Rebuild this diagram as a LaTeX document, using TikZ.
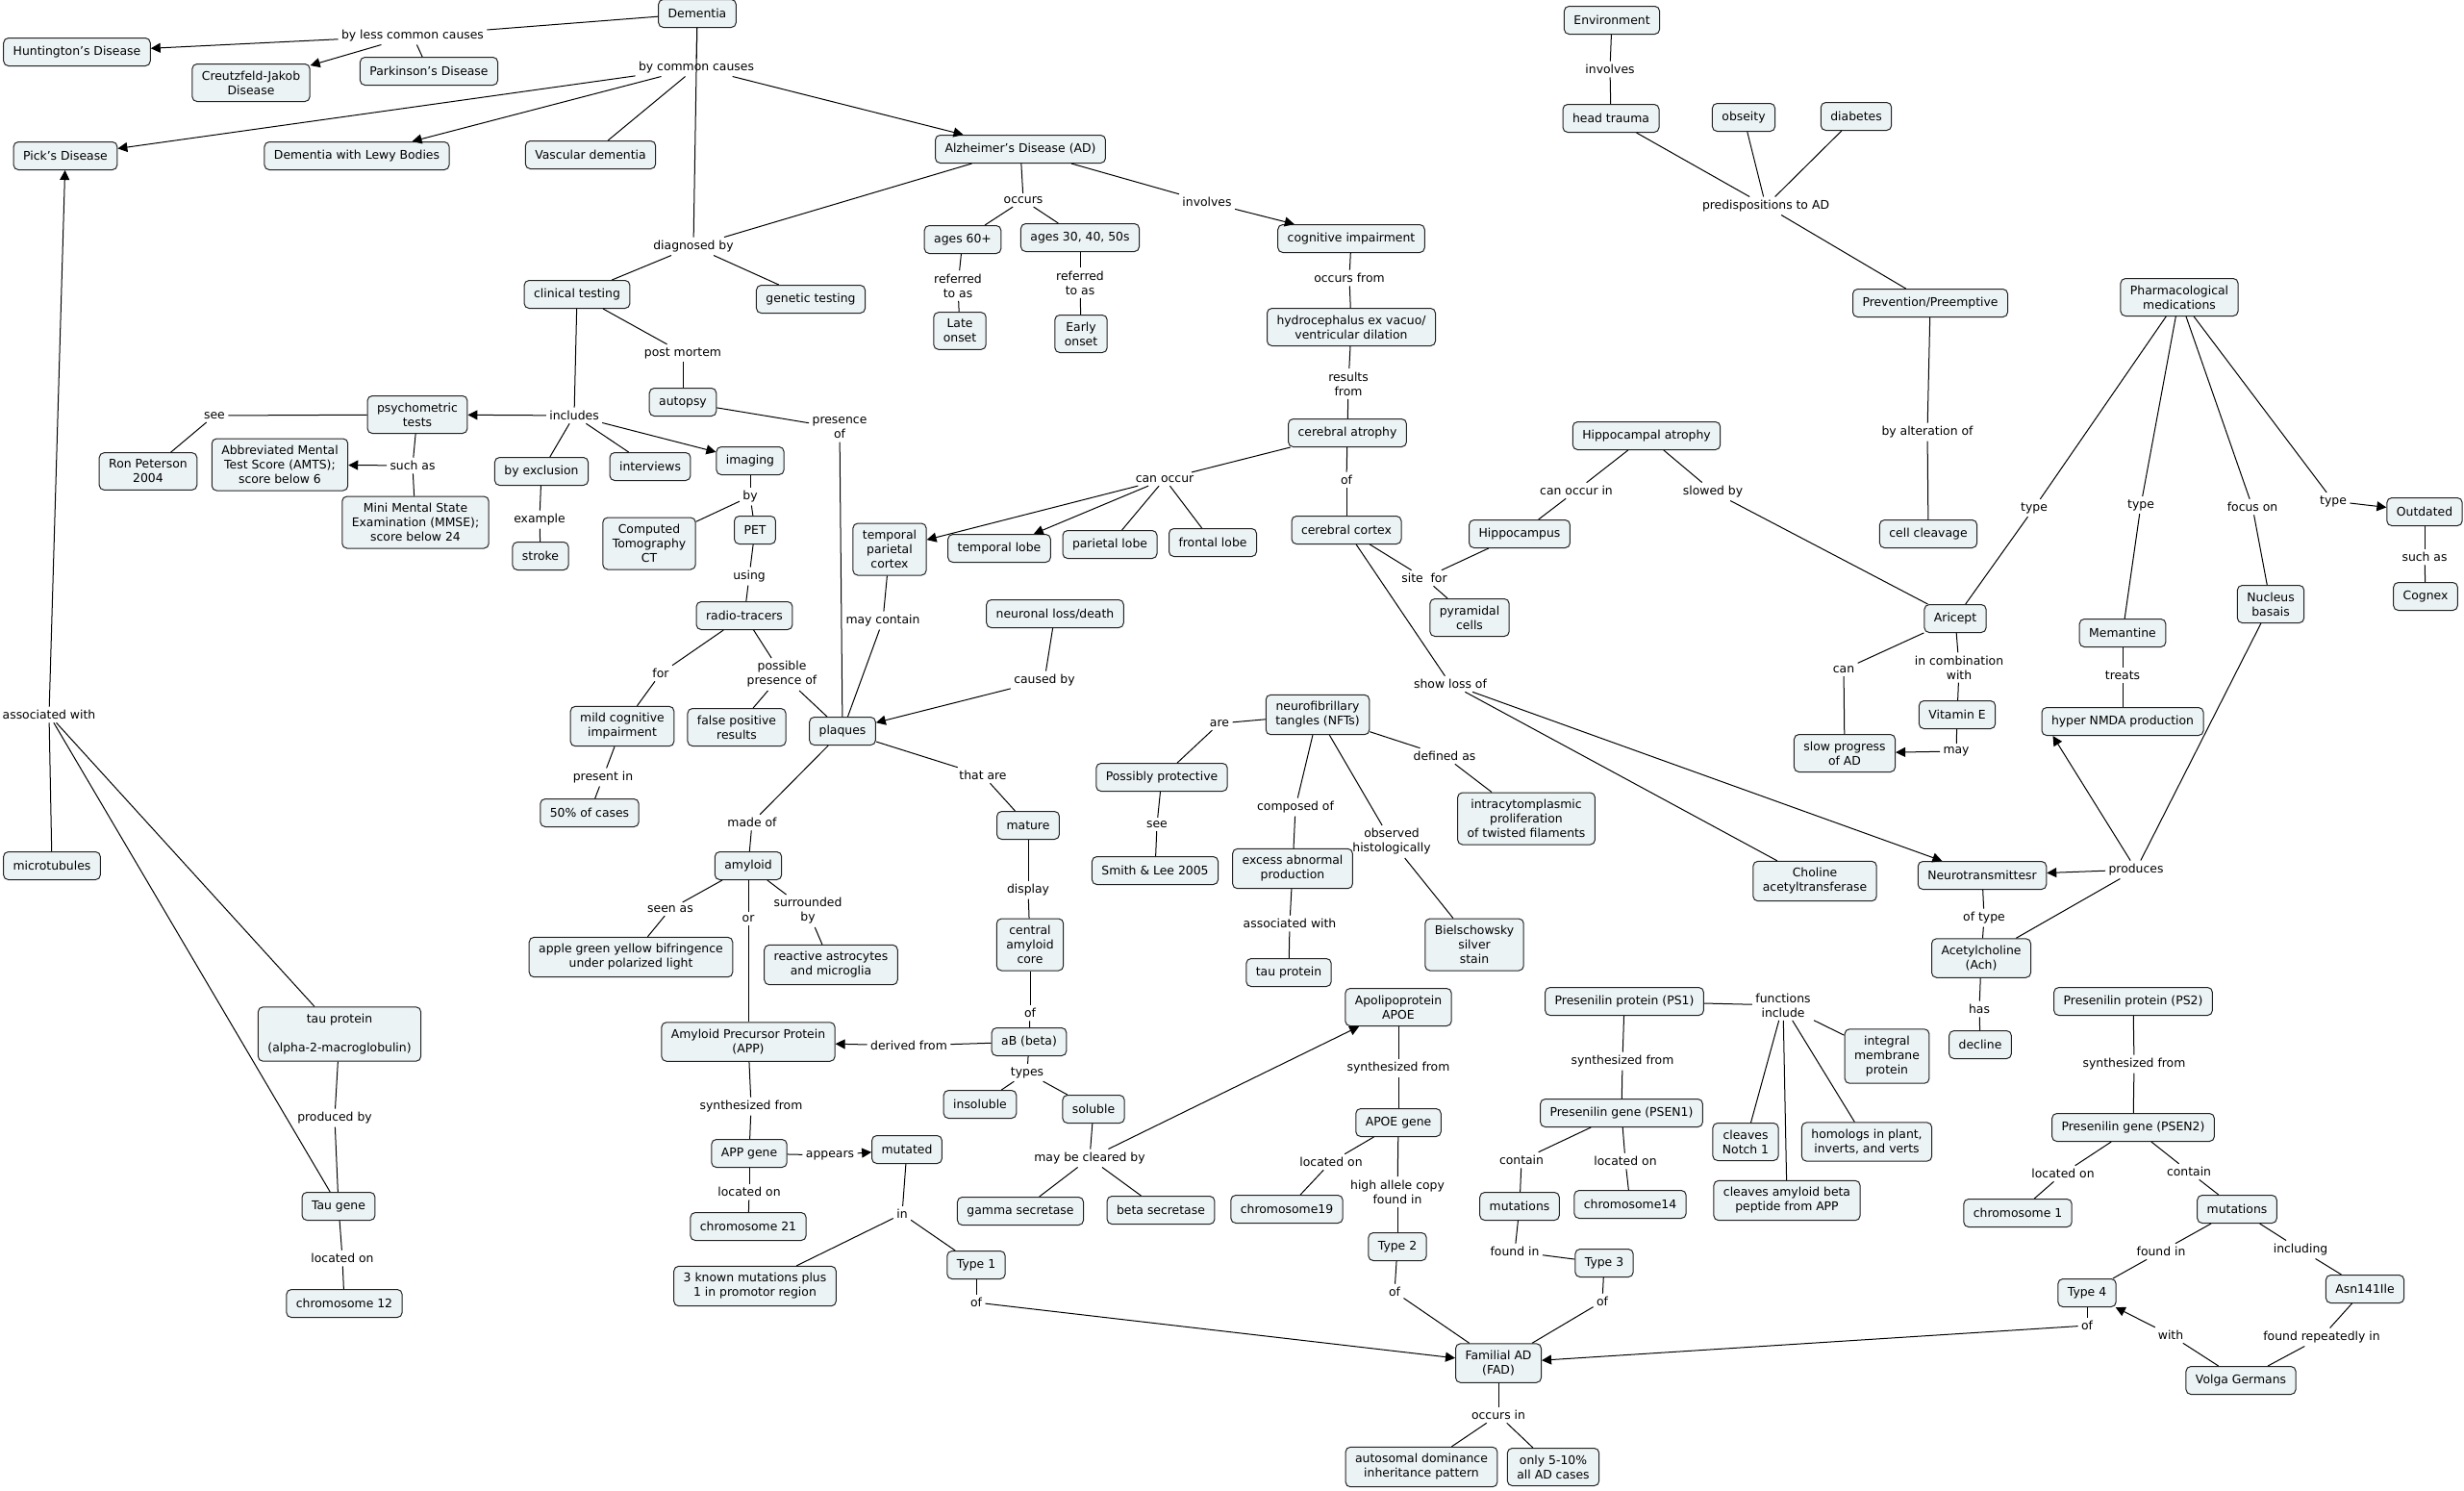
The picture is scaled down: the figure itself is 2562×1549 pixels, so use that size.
\documentclass[tikz,border=0pt]{standalone}
\usepackage{fontspec}
\setmainfont{DejaVu Sans}
\usetikzlibrary{arrows.meta}
\definecolor{conceptfill}{RGB}{236,243,245}
\definecolor{conceptline}{RGB}{35,35,35}

\begin{document}
\begin{tikzpicture}[x=0.5pt, y=-0.5pt, line width=0.5pt,
    font=\fontsize{6.2}{7.5}\selectfont,
    >={Triangle[length=5pt,width=5pt]},
    concept/.style={draw=conceptline, fill=conceptfill, rounded corners=2.5pt, align=center,
      inner xsep=5pt, inner ysep=3.6pt, minimum height=14.5pt},
    link/.style={align=center, inner sep=1.5pt}]
    \useasboundingbox (0, 0) rectangle (2562, 1549);
    \node[concept] (dem) at (725, 14) {Dementia};
    \node[concept] (hunt) at (80, 54) {Huntington's Disease};
    \node[concept] (cjd) at (261, 86) {Creutzfeld-Jakob\\Disease};
    \node[concept] (park) at (446, 74) {Parkinson's Disease};
    \node[concept] (pick) at (68, 162) {Pick's Disease};
    \node[concept] (lewy) at (371, 162) {Dementia with Lewy Bodies};
    \node[concept] (vasc) at (614, 161) {Vascular dementia};
    \node[concept] (ad) at (1061, 155) {Alzheimer's Disease (AD)};
    \node[concept] (clin) at (600, 306) {clinical testing};
    \node[concept] (gen) at (843, 311) {genetic testing};
    \node[concept] (age60) at (1001, 249) {ages 60+};
    \node[concept] (age30) at (1123, 247) {ages 30, 40, 50s};
    \node[concept] (late) at (998, 344) {Late\\onset};
    \node[concept] (early) at (1124, 347) {Early\\onset};
    \node[concept] (cog) at (1405, 248) {cognitive impairment};
    \node[concept] (hydro) at (1405, 340) {hydrocephalus ex vacuo/\\ventricular dilation};
    \node[concept] (cerat) at (1401, 450) {cerebral atrophy};
    \node[concept] (env) at (1676, 21) {Environment};
    \node[concept] (head) at (1675, 123) {head trauma};
    \node[concept] (obs) at (1813, 122) {obseity};
    \node[concept] (diab) at (1930, 121) {diabetes};
    \node[concept] (prev) at (2007, 315) {Prevention/Preemptive};
    \node[concept] (pharm) at (2266, 309) {Pharmacological\\medications};
    \node[concept] (hipat) at (1712, 453) {Hippocampal atrophy};
    \node[concept] (autopsy) at (710, 418) {autopsy};
    \node[concept] (psych) at (434, 431) {psychometric\\tests};
    \node[concept] (ron) at (154, 490) {Ron Peterson\\2004};
    \node[concept] (amts) at (291, 483) {Abbreviated Mental\\Test Score (AMTS);\\score below 6};
    \node[concept] (mmse) at (432, 543) {Mini Mental State\\Examination (MMSE);\\score below 24};
    \node[concept] (excl) at (563, 490) {by exclusion};
    \node[concept] (interv) at (676, 485) {interviews};
    \node[concept] (imag) at (780, 479) {imaging};
    \node[concept] (stroke) at (562, 578) {stroke};
    \node[concept] (ct) at (675, 565) {Computed\\Tomography\\CT};
    \node[concept] (pet) at (785, 551) {PET};
    \node[concept] (radio) at (774, 640) {radio-tracers};
    \node[concept] (mci) at (647, 755) {mild cognitive\\impairment};
    \node[concept] (fpos) at (766, 756) {false positive\\results};
    \node[concept] (fifty) at (613, 845) {50\% of cases};
    \node[concept] (tpc) at (925, 571) {temporal\\parietal\\cortex};
    \node[concept] (tlobe) at (1039, 570) {temporal lobe};
    \node[concept] (plobe) at (1154, 566) {parietal lobe};
    \node[concept] (flobe) at (1261, 564) {frontal lobe};
    \node[concept] (cortex) at (1400, 551) {cerebral cortex};
    \node[concept] (hippo) at (1580, 555) {Hippocampus};
    \node[concept] (pyr) at (1528, 642) {pyramidal\\cells};
    \node[concept] (neur) at (1097, 638) {neuronal loss/death};
    \node[concept] (plaq) at (876, 760) {plaques};
    \node[concept] (mature) at (1069, 858) {mature};
    \node[concept] (amyl) at (778, 900) {amyloid};
    \node[concept] (apple) at (656, 995) {apple green yellow bifringence\\under polarized light};
    \node[concept] (astro) at (864, 1003) {reactive astrocytes\\and microglia};
    \node[concept] (core) at (1071, 982) {central\\amyloid\\core};
    \node[concept] (prot) at (1208, 808) {Possibly protective};
    \node[concept] (smith) at (1201, 905) {Smith \& Lee 2005};
    \node[concept] (nft) at (1370, 743) {neurofibrillary\\tangles (NFTs)};
    \node[concept] (intra) at (1587, 851) {intracytomplasmic\\proliferation\\of twisted filaments};
    \node[concept] (excess) at (1344, 903) {excess abnormal\\production};
    \node[concept] (bielsch) at (1533, 982) {Bielschowsky\\silver\\stain};
    \node[concept] (tau) at (1340, 1011) {tau protein};
    \node[concept] (choline) at (1887, 916) {Choline\\acetyltransferase};
    \node[concept] (neurot) at (2061, 910) {Neurotransmittesr};
    \node[concept] (ach) at (2060, 996) {Acetylcholine\\(Ach)};
    \node[concept] (decline) at (2059, 1086) {decline};
    \node[concept] (cellcl) at (2005, 555) {cell cleavage};
    \node[concept] (aricept) at (2033, 643) {Aricept};
    \node[concept] (meman) at (2207, 658) {Memantine};
    \node[concept] (nucleus) at (2361, 628) {Nucleus\\basais};
    \node[concept] (outd) at (2521, 532) {Outdated};
    \node[concept] (cognex) at (2522, 620) {Cognex};
    \node[concept] (vite) at (2035, 743) {Vitamin E};
    \node[concept] (nmda) at (2207, 750) {hyper NMDA production};
    \node[concept] (slow) at (1918, 783) {slow progress\\of AD};
    \node[concept] (micro) at (54, 900) {microtubules};
    \node[concept] (taualpha) at (353, 1075) {tau protein\\[7.5pt](alpha-2-macroglobulin)};
    \node[concept] (taugene) at (352, 1254) {Tau gene};
    \node[concept] (chr12) at (358, 1355) {chromosome 12};
    \node[concept] (app) at (778, 1083) {Amyloid Precursor Protein\\(APP)};
    \node[concept] (ab) at (1070, 1083) {aB (beta)};
    \node[concept] (insol) at (1019, 1148) {insoluble};
    \node[concept] (sol) at (1137, 1153) {soluble};
    \node[concept] (appgene) at (779, 1199) {APP gene};
    \node[concept] (mut) at (943, 1195) {mutated};
    \node[concept] (gamma) at (1061, 1259) {gamma secretase};
    \node[concept] (beta) at (1207, 1258) {beta secretase};
    \node[concept] (chr21) at (778, 1275) {chromosome 21};
    \node[concept] (known) at (785, 1337) {3 known mutations plus\\1 in promotor region};
    \node[concept] (type1) at (1015, 1315) {Type 1};
    \node[concept] (apoe) at (1454, 1047) {Apolipoprotein\\APOE};
    \node[concept] (apoegene) at (1454, 1167) {APOE gene};
    \node[concept] (chr19) at (1338, 1257) {chromosome19};
    \node[concept] (type2) at (1453, 1296) {Type 2};
    \node[concept] (ps1) at (1689, 1041) {Presenilin protein (PS1)};
    \node[concept] (psen1) at (1686, 1157) {Presenilin gene (PSEN1)};
    \node[concept] (mutps1) at (1580, 1254) {mutations};
    \node[concept] (chr14) at (1695, 1252) {chromosome14};
    \node[concept] (type3) at (1668, 1313) {Type 3};
    \node[concept] (fad) at (1558, 1417) {Familial AD\\(FAD)};
    \node[concept] (autos) at (1478, 1525) {autosomal dominance\\inheritance pattern};
    \node[concept] (only) at (1615, 1525) {only 5-10\%\\all AD cases};
    \node[concept] (integ) at (1962, 1098) {integral\\membrane\\protein};
    \node[concept] (notch) at (1815, 1187) {cleaves\\Notch 1};
    \node[concept] (homol) at (1941, 1187) {homologs in plant,\\inverts, and verts};
    \node[concept] (cleav) at (1858, 1248) {cleaves amyloid beta\\peptide from APP};
    \node[concept] (ps2) at (2218, 1041) {Presenilin protein (PS2)};
    \node[concept] (psen2) at (2218, 1172) {Presenilin gene (PSEN2)};
    \node[concept] (chr1) at (2098, 1261) {chromosome 1};
    \node[concept] (mutps2) at (2326, 1257) {mutations};
    \node[concept] (type4) at (2170, 1344) {Type 4};
    \node[concept] (asn) at (2459, 1340) {Asn141Ile};
    \node[concept] (volga) at (2330, 1435) {Volga Germans};
    \node[link] (llesscc) at (429, 37) {by less common causes};
    \node[link] (lcommc) at (724, 70) {by common causes};
    \node[link] (ldiag) at (721, 256) {diagnosed by};
    \node[link] (loccurs) at (1064, 208) {occurs};
    \node[link] (linvolves) at (1255, 210) {involves};
    \node[link] (lref1) at (996, 297) {referred\\to as};
    \node[link] (lref2) at (1123, 294) {referred\\to as};
    \node[link] (lpostm) at (710, 367) {post mortem};
    \node[link] (lpresence) at (873, 445) {presence\\of};
    \node[link] (lincludes) at (597, 432) {includes};
    \node[link] (lsee1) at (223, 432) {see};
    \node[link] (lsuchas1) at (429, 484) {such as};
    \node[link] (lexample) at (561, 540) {example};
    \node[link] (lby) at (780, 516) {by};
    \node[link] (lusing) at (779, 599) {using};
    \node[link] (lfor) at (687, 700) {for};
    \node[link] (lpossible) at (813, 701) {possible\\presence of};
    \node[link] (lpresentin) at (627, 808) {present in};
    \node[link] (lcanoccur) at (1211, 498) {can occur};
    \node[link] (loccfrom) at (1403, 289) {occurs from};
    \node[link] (lresults) at (1402, 399) {results\\from};
    \node[link] (lofcortex) at (1400, 499) {of};
    \node[link] (lsitefor) at (1481, 601) {site\ \ for};
    \node[link] (lshowloss) at (1508, 711) {show loss of};
    \node[link] (lmaycont) at (918, 645) {may contain};
    \node[link] (lcaused) at (1086, 707) {caused by};
    \node[link] (lmadeof) at (782, 855) {made of};
    \node[link] (lthatare) at (1022, 806) {that are};
    \node[link] (ldisplay) at (1069, 925) {display};
    \node[link] (lseenas) at (697, 945) {seen as};
    \node[link] (lor) at (778, 955) {or};
    \node[link] (lsurr) at (840, 947) {surrounded\\by};
    \node[link] (lofcore) at (1071, 1053) {of};
    \node[link] (lderived) at (945, 1087) {derived from};
    \node[link] (ltypes) at (1068, 1115) {types};
    \node[link] (lsynapp) at (781, 1150) {synthesized from};
    \node[link] (lappears) at (863, 1201) {appears};
    \node[link] (lmaybecl) at (1133, 1204) {may be cleared by};
    \node[link] (lloc21) at (779, 1239) {located on};
    \node[link] (lin) at (938, 1262) {in};
    \node[link] (loft1) at (1015, 1354) {of};
    \node[link] (lare) at (1268, 752) {are};
    \node[link] (lsee2) at (1203, 857) {see};
    \node[link] (ldefined) at (1502, 786) {defined as};
    \node[link] (lcomposed) at (1347, 839) {composed of};
    \node[link] (lobserved) at (1447, 875) {observed\\histologically};
    \node[link] (lassoctau) at (1341, 960) {associated with};
    \node[link] (linvolves2) at (1674, 72) {involves};
    \node[link] (lpredisp) at (1836, 214) {predispositions to AD};
    \node[link] (lalter) at (2004, 449) {by alteration of};
    \node[link] (lcanoccin) at (1639, 510) {can occur in};
    \node[link] (lslowed) at (1781, 511) {slowed by};
    \node[link] (ltype1) at (2115, 528) {type};
    \node[link] (ltype2) at (2226, 525) {type};
    \node[link] (lfocus) at (2342, 527) {focus on};
    \node[link] (ltype3) at (2426, 521) {type};
    \node[link] (lsuchas2) at (2521, 579) {such as};
    \node[link] (lcan) at (1917, 696) {can};
    \node[link] (lincomb) at (2037, 694) {in combination\\with};
    \node[link] (ltreats) at (2207, 702) {treats};
    \node[link] (lmay) at (2034, 781) {may};
    \node[link] (lproduces) at (2221, 904) {produces};
    \node[link] (loftype) at (2063, 954) {of type};
    \node[link] (lhas) at (2058, 1049) {has};
    \node[link] (lassoc) at (51, 743) {associated with};
    \node[link] (lproducedby) at (348, 1162) {produced by};
    \node[link] (lloc12) at (356, 1308) {located on};
    \node[link] (lsynapoe) at (1454, 1110) {synthesized from};
    \node[link] (lloc19) at (1384, 1208) {located on};
    \node[link] (lhighall) at (1453, 1239) {high allele copy\\found in};
    \node[link] (loft2) at (1450, 1343) {of};
    \node[link] (lsynps1) at (1687, 1103) {synthesized from};
    \node[link] (lfunctions) at (1854, 1045) {functions\\include};
    \node[link] (lcontain1) at (1582, 1206) {contain};
    \node[link] (lloc14) at (1690, 1207) {located on};
    \node[link] (lfoundin1) at (1575, 1301) {found in};
    \node[link] (loft3) at (1666, 1353) {of};
    \node[link] (loccursin) at (1558, 1471) {occurs in};
    \node[link] (lsynps2) at (2219, 1106) {synthesized from};
    \node[link] (lloc1) at (2145, 1220) {located on};
    \node[link] (lcontain2) at (2276, 1218) {contain};
    \node[link] (lfoundin2) at (2247, 1301) {found in};
    \node[link] (lincluding) at (2392, 1299) {including};
    \node[link] (loft4) at (2170, 1378) {of};
    \node[link] (lwith) at (2257, 1388) {with};
    \node[link] (lfoundrep) at (2414, 1390) {found repeatedly in};
    \draw (dem) -- (llesscc);
    \draw[->] (llesscc) -- (hunt);
    \draw[->] (llesscc) -- (cjd);
    \draw (llesscc) -- (park);
    \draw (dem) -- (lcommc);
    \draw[->] (lcommc) -- (pick);
    \draw[->] (lcommc) -- (lewy);
    \draw (lcommc) -- (vasc);
    \draw[->] (lcommc) -- (ad);
    \draw (dem) -- (ldiag);
    \draw (ad) -- (ldiag);
    \draw (ldiag) -- (clin);
    \draw (ldiag) -- (gen);
    \draw (ad) -- (loccurs);
    \draw (loccurs) -- (age60);
    \draw (loccurs) -- (age30);
    \draw (age60) -- (lref1);
    \draw (lref1) -- (late);
    \draw (age30) -- (lref2);
    \draw (lref2) -- (early);
    \draw (ad) -- (linvolves);
    \draw[->] (linvolves) -- (cog);
    \draw (cog) -- (loccfrom);
    \draw (loccfrom) -- (hydro);
    \draw (hydro) -- (lresults);
    \draw (lresults) -- (cerat);
    \draw (cerat) -- (lcanoccur);
    \draw[->] (lcanoccur) -- (tpc);
    \draw[->] (lcanoccur) -- (tlobe);
    \draw (lcanoccur) -- (plobe);
    \draw (lcanoccur) -- (flobe);
    \draw (cerat) -- (lofcortex);
    \draw (lofcortex) -- (cortex);
    \draw (cortex) -- (lsitefor);
    \draw (hippo) -- (lsitefor);
    \draw (lsitefor) -- (pyr);
    \draw (cortex) -- (lshowloss);
    \draw (lshowloss) -- (choline);
    \draw[->] (lshowloss) -- (neurot);
    \draw (clin) -- (lincludes);
    \draw[->] (lincludes) -- (psych);
    \draw (lincludes) -- (excl);
    \draw (lincludes) -- (interv);
    \draw[->] (lincludes) -- (imag);
    \draw (clin) -- (lpostm);
    \draw (lpostm) -- (autopsy);
    \draw (autopsy) -- (lpresence);
    \draw (lpresence) -- (plaq);
    \draw (psych) -- (lsee1);
    \draw (lsee1) -- (ron);
    \draw (psych) -- (lsuchas1);
    \draw[->] (lsuchas1) -- (amts);
    \draw (lsuchas1) -- (mmse);
    \draw (excl) -- (lexample);
    \draw (lexample) -- (stroke);
    \draw (imag) -- (lby);
    \draw (lby) -- (ct);
    \draw (lby) -- (pet);
    \draw (pet) -- (lusing);
    \draw (lusing) -- (radio);
    \draw (radio) -- (lfor);
    \draw (lfor) -- (mci);
    \draw (radio) -- (lpossible);
    \draw (lpossible) -- (fpos);
    \draw (lpossible) -- (plaq);
    \draw (mci) -- (lpresentin);
    \draw (lpresentin) -- (fifty);
    \draw (tpc) -- (lmaycont);
    \draw (lmaycont) -- (plaq);
    \draw (neur) -- (lcaused);
    \draw[->] (lcaused) -- (plaq);
    \draw (plaq) -- (lmadeof);
    \draw (lmadeof) -- (amyl);
    \draw (plaq) -- (lthatare);
    \draw (lthatare) -- (mature);
    \draw (mature) -- (ldisplay);
    \draw (ldisplay) -- (core);
    \draw (amyl) -- (lseenas);
    \draw (lseenas) -- (apple);
    \draw (amyl) -- (lsurr);
    \draw (lsurr) -- (astro);
    \draw (amyl) -- (lor);
    \draw (lor) -- (app);
    \draw (core) -- (lofcore);
    \draw (lofcore) -- (ab);
    \draw (ab) -- (lderived);
    \draw[->] (lderived) -- (app);
    \draw (ab) -- (ltypes);
    \draw (ltypes) -- (insol);
    \draw (ltypes) -- (sol);
    \draw (sol) -- (lmaybecl);
    \draw (lmaybecl) -- (gamma);
    \draw (lmaybecl) -- (beta);
    \draw[->] (lmaybecl) -- (apoe);
    \draw (app) -- (lsynapp);
    \draw (lsynapp) -- (appgene);
    \draw (appgene) -- (lappears);
    \draw[->] (lappears) -- (mut);
    \draw (appgene) -- (lloc21);
    \draw (lloc21) -- (chr21);
    \draw (mut) -- (lin);
    \draw (lin) -- (known);
    \draw (lin) -- (type1);
    \draw (type1) -- (loft1);
    \draw[->] (loft1) -- (fad);
    \draw (nft) -- (lare);
    \draw (lare) -- (prot);
    \draw (prot) -- (lsee2);
    \draw (lsee2) -- (smith);
    \draw (nft) -- (ldefined);
    \draw (ldefined) -- (intra);
    \draw (nft) -- (lcomposed);
    \draw (lcomposed) -- (excess);
    \draw (excess) -- (lassoctau);
    \draw (lassoctau) -- (tau);
    \draw (nft) -- (lobserved);
    \draw (lobserved) -- (bielsch);
    \draw (env) -- (linvolves2);
    \draw (linvolves2) -- (head);
    \draw (head) -- (lpredisp);
    \draw (obs) -- (lpredisp);
    \draw (diab) -- (lpredisp);
    \draw (lpredisp) -- (prev);
    \draw (prev) -- (lalter);
    \draw (lalter) -- (cellcl);
    \draw (hipat) -- (lcanoccin);
    \draw (lcanoccin) -- (hippo);
    \draw (hipat) -- (lslowed);
    \draw (lslowed) -- (aricept);
    \draw (pharm) -- (ltype1);
    \draw (ltype1) -- (aricept);
    \draw (pharm) -- (ltype2);
    \draw (ltype2) -- (meman);
    \draw (pharm) -- (lfocus);
    \draw (lfocus) -- (nucleus);
    \draw (pharm) -- (ltype3);
    \draw[->] (ltype3) -- (outd);
    \draw (outd) -- (lsuchas2);
    \draw (lsuchas2) -- (cognex);
    \draw (aricept) -- (lcan);
    \draw (lcan) -- (slow);
    \draw (aricept) -- (lincomb);
    \draw (lincomb) -- (vite);
    \draw (vite) -- (lmay);
    \draw[->] (lmay) -- (slow);
    \draw (meman) -- (ltreats);
    \draw (ltreats) -- (nmda);
    \draw (nucleus) -- (lproduces);
    \draw (ach) -- (lproduces);
    \draw[->] (lproduces) -- (neurot);
    \draw[->] (lproduces) -- ([xshift=6pt]nmda.south west);
    \draw (neurot) -- (loftype);
    \draw (loftype) -- (ach);
    \draw (ach) -- (lhas);
    \draw (lhas) -- (decline);
    \draw (micro) -- (lassoc);
    \draw (taualpha) -- (lassoc);
    \draw (taugene) -- (lassoc);
    \draw[->] (lassoc) -- (pick);
    \draw (taualpha) -- (lproducedby);
    \draw (lproducedby) -- (taugene);
    \draw (taugene) -- (lloc12);
    \draw (lloc12) -- (chr12);
    \draw (apoe) -- (lsynapoe);
    \draw (lsynapoe) -- (apoegene);
    \draw (apoegene) -- (lloc19);
    \draw (lloc19) -- (chr19);
    \draw (apoegene) -- (lhighall);
    \draw (lhighall) -- (type2);
    \draw (type2) -- (loft2);
    \draw (loft2) -- (fad);
    \draw (ps1) -- (lsynps1);
    \draw (lsynps1) -- (psen1);
    \draw (ps1) -- (lfunctions);
    \draw (lfunctions) -- (integ);
    \draw (lfunctions) -- (notch);
    \draw (lfunctions) -- (cleav);
    \draw (lfunctions) -- (homol);
    \draw (psen1) -- (lcontain1);
    \draw (lcontain1) -- (mutps1);
    \draw (psen1) -- (lloc14);
    \draw (lloc14) -- (chr14);
    \draw (mutps1) -- (lfoundin1);
    \draw (lfoundin1) -- (type3);
    \draw (type3) -- (loft3);
    \draw (loft3) -- (fad);
    \draw (fad) -- (loccursin);
    \draw (loccursin) -- (autos);
    \draw (loccursin) -- (only);
    \draw (ps2) -- (lsynps2);
    \draw (lsynps2) -- (psen2);
    \draw (psen2) -- (lloc1);
    \draw (lloc1) -- (chr1);
    \draw (psen2) -- (lcontain2);
    \draw (lcontain2) -- (mutps2);
    \draw (mutps2) -- (lfoundin2);
    \draw (lfoundin2) -- (type4);
    \draw (mutps2) -- (lincluding);
    \draw (lincluding) -- (asn);
    \draw (asn) -- (lfoundrep);
    \draw (lfoundrep) -- (volga);
    \draw (volga) -- (lwith);
    \draw[->] (lwith) -- (type4);
    \draw (type4) -- (loft4);
    \draw[->] (loft4) -- (fad);
  \end{tikzpicture}
\end{document}
